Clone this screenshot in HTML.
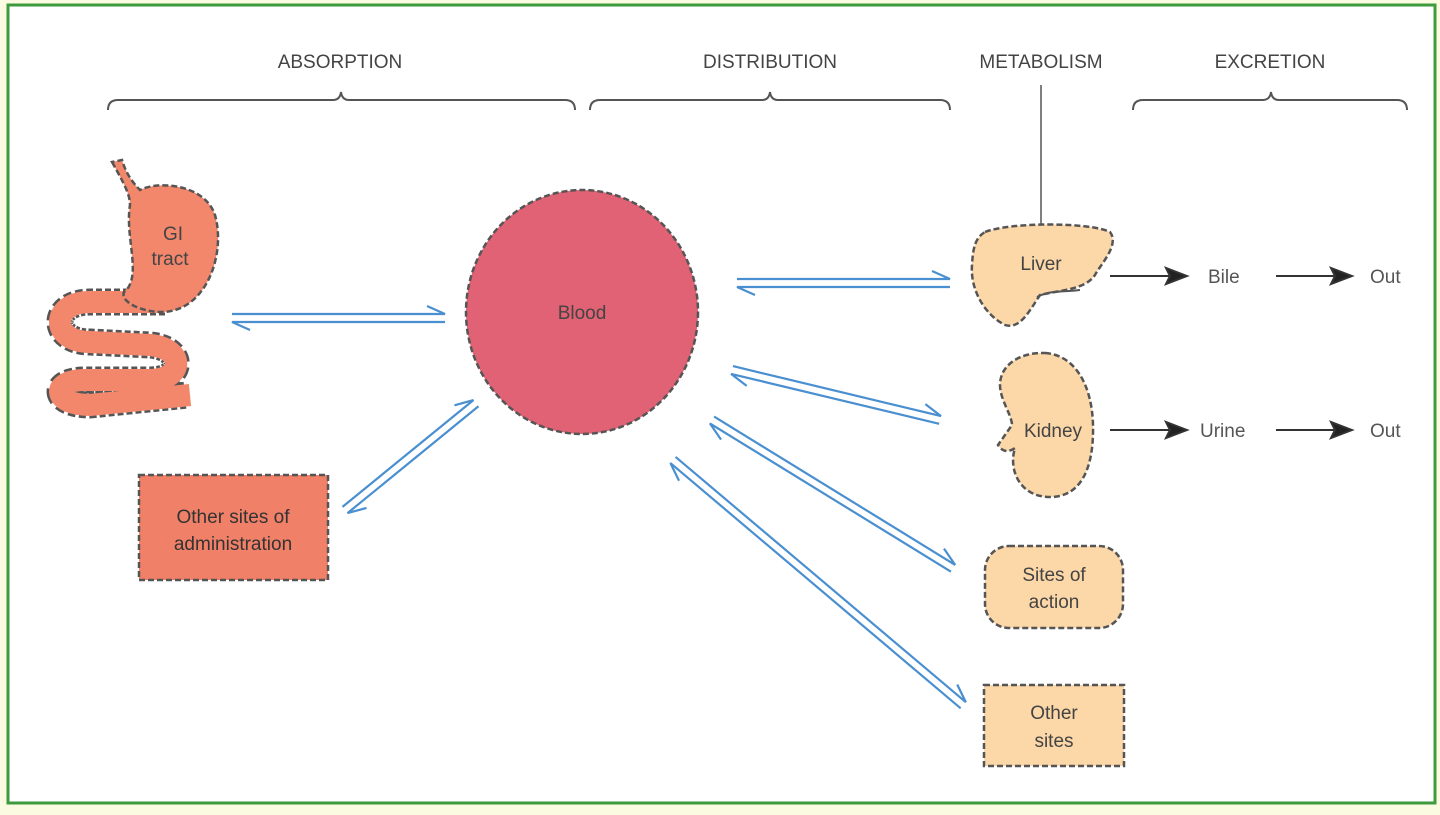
<!DOCTYPE html>
<html><head><meta charset="utf-8"><style>
html,body{margin:0;padding:0;background:#fdfde6;}
svg{display:block;font-family:"Liberation Sans",Arial,sans-serif;}
</style></head><body>
<svg width="1440" height="815" viewBox="0 0 1440 815">
<rect x="0" y="0" width="1440" height="815" fill="#fbfbe2"/>
<rect x="8" y="5" width="1427" height="798" fill="#fff" stroke="#3d9a3d" stroke-width="3"/>
<g font-size="19" fill="#444" text-anchor="middle">
<text x="340" y="68">ABSORPTION</text>
<text x="770" y="68">DISTRIBUTION</text>
<text x="1041" y="68">METABOLISM</text>
<text x="1270" y="68">EXCRETION</text>
</g>
<g fill="none" stroke="#555" stroke-width="2">
<path d="M108,110 Q108,100 118,100 L333,100 Q340,100 341,92 Q342,100 349,100 L565,100 Q575,100 575,110"/>
<path d="M590,110 Q590,100 600,100 L762,100 Q769,100 770,92 Q771,100 778,100 L940,100 Q950,100 950,110"/>
<path d="M1133,110 Q1133,100 1143,100 L1263,100 Q1270,100 1271,92 Q1272,100 1279,100 L1397,100 Q1407,100 1407,110"/>
<line x1="1041" y1="85" x2="1041" y2="240" stroke-width="1.5"/>
</g>
<!-- GI tract -->
<path d="M165,302 L90,302 C50,302 50,342 90,342 L150,345 C185,348 185,380 150,380 L85,380 C50,380 52,405 90,405 L188,395" fill="none" stroke="#555" stroke-width="27" stroke-dasharray="6,3" stroke-linejoin="round"/>
<path d="M165,302 L90,302 C50,302 50,342 90,342 L150,345 C185,348 185,380 150,380 L85,380 C50,380 52,405 90,405 L190,395" fill="none" stroke="#f2876c" stroke-width="22" stroke-linejoin="round"/>
<path d="M112,162 C125,185 130,195 130,205 C125,235 140,270 128,288 C110,300 150,318 175,310 C210,300 225,250 215,215 C205,185 160,180 140,190 C130,180 125,170 122,160 Z" fill="#f2876c" stroke="#555" stroke-width="2.5" stroke-dasharray="6,3"/>
<text x="173" y="240" font-size="19" fill="#444" text-anchor="middle">GI</text>
<text x="170" y="265" font-size="19" fill="#444" text-anchor="middle">tract</text>
<!-- other sites admin -->
<rect x="139" y="475" width="189" height="105" fill="#f08068" stroke="#555" stroke-width="2.5" stroke-dasharray="6,3"/>
<text x="233" y="523" font-size="19" fill="#333" text-anchor="middle">Other sites of</text>
<text x="233" y="550" font-size="19" fill="#333" text-anchor="middle">administration</text>
<!-- Blood -->
<ellipse cx="582" cy="312" rx="116" ry="122" fill="#e06274" stroke="#555" stroke-width="2.5" stroke-dasharray="6,3"/>
<text x="582" y="319" font-size="19" fill="#444" text-anchor="middle">Blood</text>
<!-- Liver -->
<path d="M985,232 C1010,222 1090,222 1110,232 C1120,245 1100,265 1095,275 C1085,290 1060,290 1040,295 C1030,310 1020,330 1005,325 C985,315 970,290 972,265 C973,248 975,238 985,232 Z" fill="#fcd7a8" stroke="#555" stroke-width="2.5" stroke-dasharray="6,3"/>
<path d="M1037,297 C1050,290 1065,292 1080,290" fill="none" stroke="#555" stroke-width="2"/>
<text x="1041" y="270" font-size="19" fill="#444" text-anchor="middle">Liver</text>
<!-- Kidney -->
<path d="M1045,353 C1075,355 1092,385 1093,425 C1094,470 1080,497 1050,497 C1020,497 1008,470 1015,448 C1005,455 1000,448 998,445 L1012,425 C1012,415 1000,400 1000,385 C1000,365 1020,352 1045,353 Z" fill="#fcd7a8" stroke="#555" stroke-width="2.5" stroke-dasharray="6,3"/>
<text x="1053" y="437" font-size="19" fill="#444" text-anchor="middle">Kidney</text>
<!-- sites of action -->
<rect x="985" y="546" width="138" height="82" rx="24" fill="#fcd7a8" stroke="#555" stroke-width="2.5" stroke-dasharray="6,3"/>
<text x="1054" y="581" font-size="19" fill="#444" text-anchor="middle">Sites of</text>
<text x="1054" y="608" font-size="19" fill="#444" text-anchor="middle">action</text>
<rect x="984" y="685" width="140" height="81" fill="#fcd7a8" stroke="#555" stroke-width="2.5" stroke-dasharray="6,3"/>
<text x="1054" y="719" font-size="19" fill="#444" text-anchor="middle">Other</text>
<text x="1054" y="747" font-size="19" fill="#444" text-anchor="middle">sites</text>
<!-- excretion arrows -->
<g stroke="#333" stroke-width="2" fill="#222">
<line x1="1110" y1="276" x2="1170" y2="276"/><path d="M1187,276 L1166,268 L1170,276 L1166,284 Z"/>
<line x1="1276" y1="276" x2="1335" y2="276"/><path d="M1352,276 L1331,268 L1335,276 L1331,284 Z"/>
<line x1="1110" y1="430" x2="1170" y2="430"/><path d="M1187,430 L1166,422 L1170,430 L1166,438 Z"/>
<line x1="1276" y1="430" x2="1335" y2="430"/><path d="M1352,430 L1331,422 L1335,430 L1331,438 Z"/>
</g>
<g font-size="19" fill="#555">
<text x="1208" y="283">Bile</text><text x="1370" y="283">Out</text>
<text x="1200" y="437">Urine</text><text x="1370" y="437">Out</text>
</g>
<!-- equilibrium arrows -->
<g stroke="#4a8fd0" stroke-width="2.2" fill="none">
<g transform="translate(232,318)"><path d="M0,-4 H213 L195,-12 M213,4 H0 L18,12"/></g>
<g transform="translate(737,283)"><path d="M0,-4 H213 L195,-12 M213,4 H0 L18,12"/></g>
<g transform="translate(732,370) rotate(13.5)"><path d="M0,-4 H214 L196,-12 M214,4 H0 L18,12"/></g>
<g transform="translate(712,420) rotate(31.6)"><path d="M0,-4 H283 L265,-12 M283,4 H0 L18,12"/></g>
<g transform="translate(673,460) rotate(40.2)"><path d="M0,-4 H380 L362,-12 M380,4 H0 L18,12"/></g>
<g transform="translate(345,510) rotate(-39.2)"><path d="M0,-4 H169 L151,-12 M169,4 H0 L18,12"/></g>
</g>
</svg>
</body></html>
